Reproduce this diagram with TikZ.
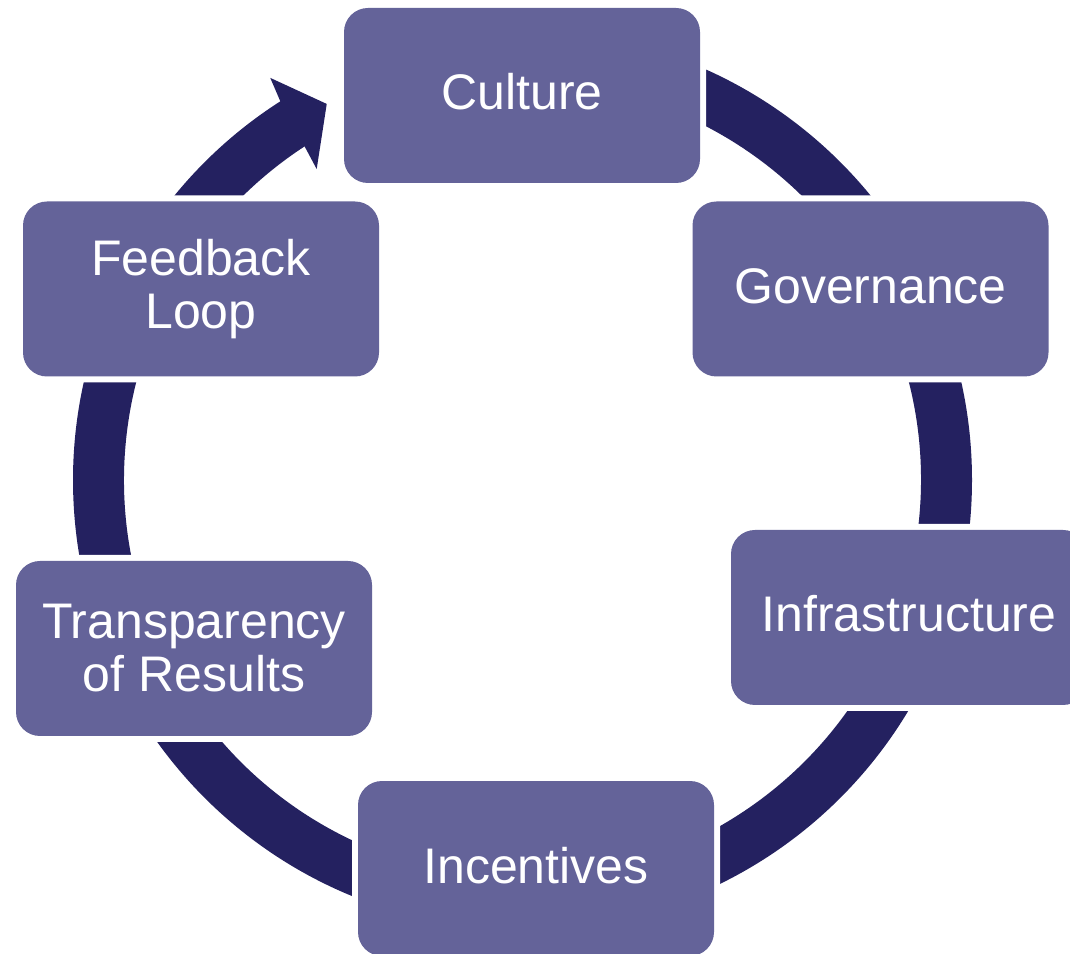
\documentclass[tikz,border=0pt]{standalone}
\usepackage{fontspec}
\setmainfont{Liberation Sans}
\definecolor{boxfill}{RGB}{100,99,153}
\definecolor{ringcol}{RGB}{36,33,96}
\begin{document}
\begin{tikzpicture}[x=1pt,y=1pt,
  stagebox/.style={fill=boxfill, rounded corners=24pt,
    minimum width=356pt, minimum height=175pt, inner sep=0pt,
    align=center, text=white, font=\fontsize{50}{53}\selectfont,
    preaction={draw=white, line width=12pt}},
  oneline/.style={text height=36pt, text depth=7pt}]
\useasboundingbox (0,0) rectangle (1070,953);
\clip (0,0) rectangle (1070,953);
\fill[white] (0,0) rectangle (1070,953);

% centre of the cycle ring
\coordinate (c) at (522.5,473);

% ring, running clockwise from under the top box round to the arrow head
\fill[ringcol, shift={(c)}]
  (90:449.5) arc[start angle=90, end angle=-237.6, radius=449.5]
  -- (-237.6:398.5) arc[start angle=-237.6, end angle=90, radius=398.5] -- cycle;

% arrow head pointing at the top box
\fill[ringcol, shift={(c)}]
  (122.6:449.5) -- (122.1:474.7) -- (117.5:424) -- (123.5:372.9)
  -- (123.15:398.5) -- cycle;

% stages
\node[stagebox, oneline] (culture)  at (522,857.5)  {Culture};
\node[stagebox, oneline] (govern)   at (870.5,664)  {Governance};
\node[stagebox, oneline] (infra)    at (909,335.5)  {Infrastructure};
\node[stagebox, oneline] (incent)   at (536,84.5)   {Incentives};
\node[stagebox] (transp)   at (194,304.5)  {Transparency\\of Results};
\node[stagebox] (feedback) at (201,664)    {Feedback\\Loop};
\end{tikzpicture}
\end{document}
